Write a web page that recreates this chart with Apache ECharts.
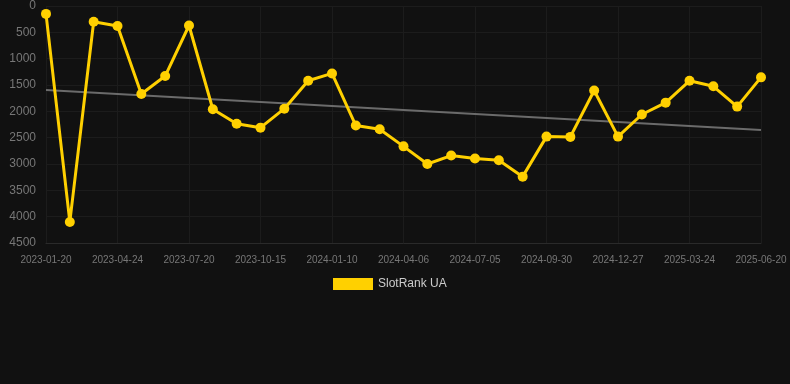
<!DOCTYPE html>
<html>
<head>
<meta charset="utf-8">
<style>
html,body{margin:0;padding:0;background:#111111;}
#chart{width:790px;height:384px;}
</style>
<script src="https://cdn.jsdelivr.net/npm/echarts@6/dist/echarts.min.js"></script>
</head>
<body>
<div id="chart"></div>
<script>
var categories = ['2023-01-20','2023-02-20','2023-03-23','2023-04-24','2023-05-22','2023-06-21','2023-07-20','2023-08-18','2023-09-16','2023-10-15','2023-11-13','2023-12-12','2024-01-10','2024-02-08','2024-03-08','2024-04-06','2024-05-06','2024-06-05','2024-07-05','2024-08-03','2024-09-01','2024-09-30','2024-10-29','2024-11-28','2024-12-27','2025-01-25','2025-02-23','2025-03-24','2025-04-22','2025-05-21','2025-06-20'];
var rankValues = [150,4100,300,380,1670,1330,370,1960,2235,2310,1950,1420,1280,2270,2340,2665,3000,2840,2895,2930,3240,2480,2485,1605,2480,2060,1835,1420,1525,1910,1355];
var trendEnds = [1595, 2355];
var seriesName = 'SlotRank UA';

var trendData = categories.map(function(c, i){
  if (i === 0) return trendEnds[0];
  if (i === categories.length - 1) return trendEnds[1];
  return null;
});

var chart = echarts.init(document.getElementById('chart'));
chart.setOption({
  backgroundColor: '#111111',
  animation: false,
  grid: {left: 46, right: 29, top: 6, bottom: 141},
  legend: {
    data: [seriesName],
    top: 273,
    left: 328,
    icon: 'rect',
    itemWidth: 40,
    itemHeight: 12,
    itemGap: 6,
    textStyle: {color: '#cccccc', fontSize: 12}
  },
  xAxis: {
    type: 'category',
    data: categories,
    boundaryGap: false,
    axisLine: {show: true, onZero: false, lineStyle: {color: '#2a2a2a'}},
    axisTick: {show: false},
    axisLabel: {interval: 2, color: '#777777', fontSize: 10, margin: 12},
    splitLine: {show: true, interval: 2, lineStyle: {color: '#1c1c1c', width: 1}}
  },
  yAxis: {
    type: 'value',
    inverse: true,
    min: 0,
    max: 4500,
    interval: 500,
    axisLine: {show: false},
    axisTick: {show: false},
    axisLabel: {color: '#777777', fontSize: 12, margin: 10, formatter: function(v){ return String(v); }},
    splitLine: {show: true, lineStyle: {color: '#1c1c1c', width: 1}}
  },
  series: [
    {
      name: seriesName,
      type: 'line',
      data: rankValues,
      symbol: 'circle',
      symbolSize: 10,
      lineStyle: {color: '#FFD000', width: 3},
      itemStyle: {color: '#FFD000'},
      z: 3
    },
    {
      name: 'trend',
      type: 'line',
      data: trendData,
      connectNulls: true,
      symbol: 'none',
      lineStyle: {color: '#6b6b6b', width: 2},
      itemStyle: {color: '#6b6b6b'},
      z: 2
    }
  ]
});
</script>
</body>
</html>
